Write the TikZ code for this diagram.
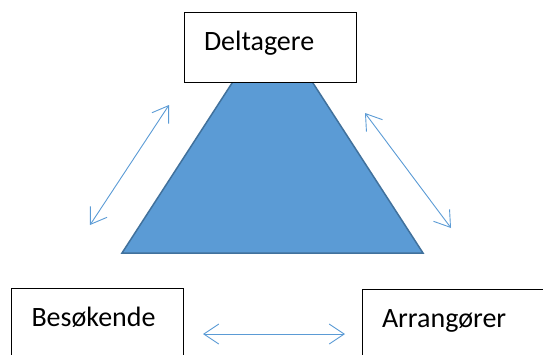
\documentclass[tikz,border=0pt]{standalone}
\usepackage{fontspec}
\setmainfont{Carlito}
\usetikzlibrary{arrows.meta}
\definecolor{triblue}{HTML}{5B9BD5}
\definecolor{triedge}{HTML}{41719C}
\tikzstyle{party}=[rectangle,draw=black,fill=white,line width=0.8pt,
text width=132pt,inner xsep=20pt,inner ysep=0pt,minimum height=70pt,
text height=20pt,text depth=14pt,align=left,font=\fontsize{28}{34}\selectfont]
\tikzstyle{pyramid}=[fill=triblue,draw=triedge,line width=1.5pt,line join=miter]
\tikzstyle{twoway}=[draw=triblue,line width=0.9pt,
{Straight Barb[length=15pt,width=20pt]}-{Straight Barb[length=15pt,width=20pt]}]

\begin{document}
\begin{tikzpicture}[x=1pt,y=-1pt]
    \useasboundingbox (0,0) rectangle (543,354);
    \clip (0,0) rectangle (543,354);

    % the pyramid behind the top box
    \filldraw [pyramid] (122,253) -- (234,80) -- (311,80) -- (423,253) -- cycle;

    \node (deltagere) [party] at (270,47) {Deltagere};
    \node (besokende) [party] at (97.5,323) {Besøkende};
    \node (arrangorer) [party,text width=150pt] at (457,324) {Arrangører};

    \coordinate (lefttop) at (169,105);
    \coordinate (leftbot) at (90,225);
    \coordinate (righttop) at (365,113);
    \coordinate (rightbot) at (451,228);
    \coordinate (midleft) at (203,334);
    \coordinate (midright) at (345,334);

    \draw [twoway] (leftbot) -- (lefttop);
    \draw [twoway] (righttop) -- (rightbot);
    \draw [twoway] (midleft) -- (midright);

\end{tikzpicture}
\end{document}
